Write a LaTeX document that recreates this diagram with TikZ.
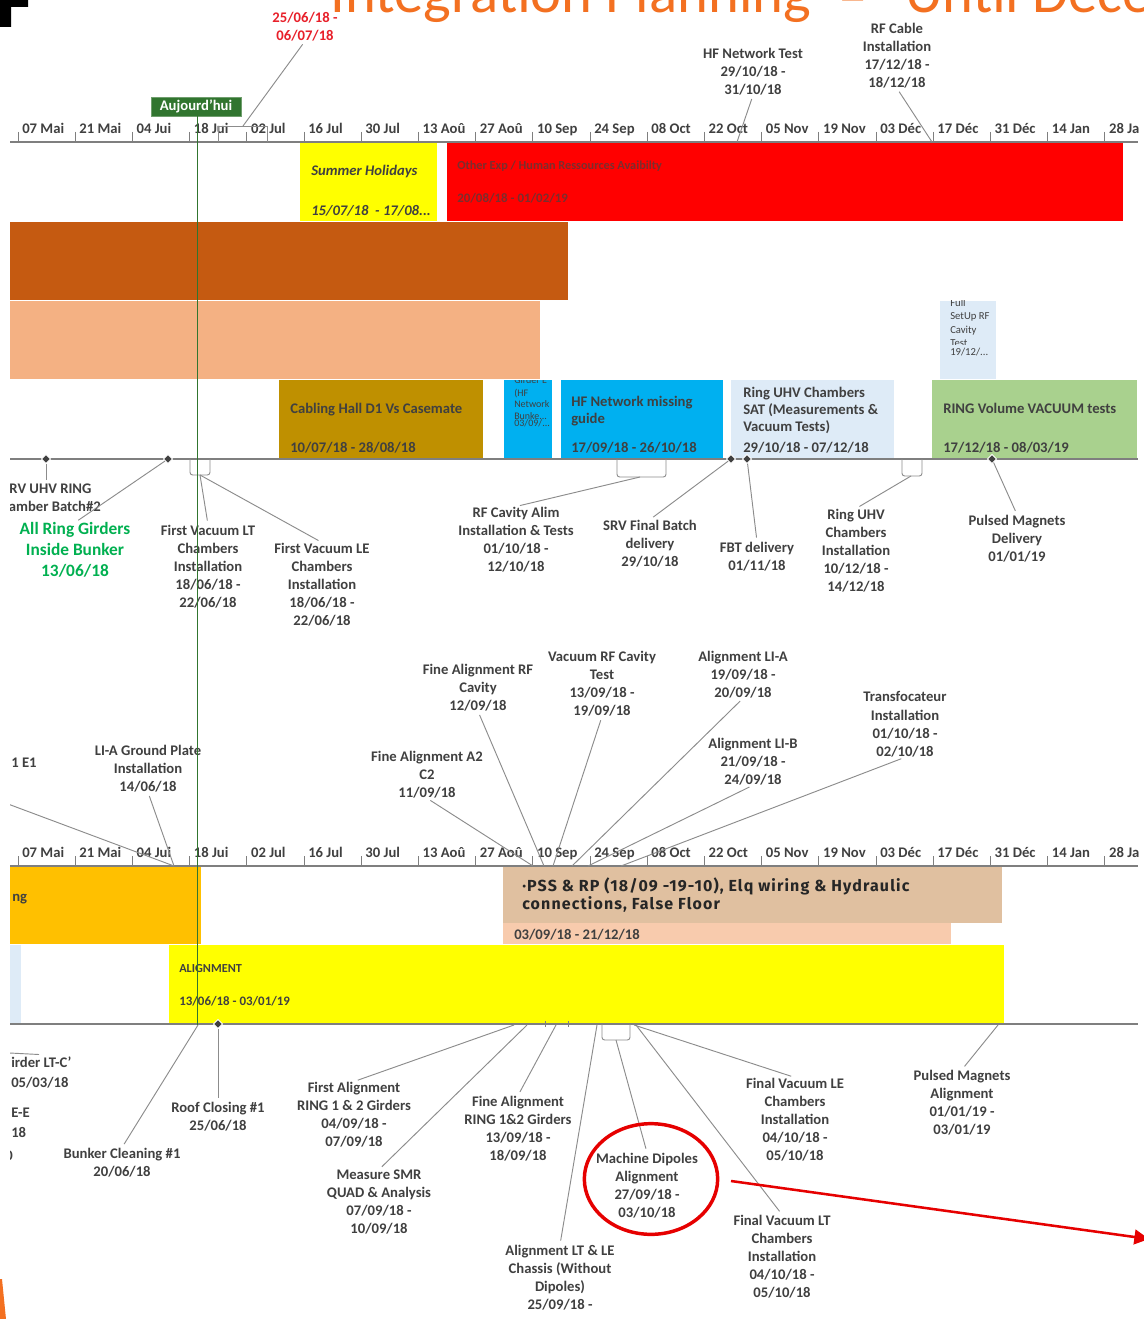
\documentclass[tikz,border=0pt]{standalone}
\usepackage{fontspec}
\setmainfont{Carlito}
\newfontfamily\pssfont{Fira Sans}[LetterSpace=7]
\usetikzlibrary{shapes.geometric,arrows.meta}
\definecolor{tgrey}{HTML}{404040}
\definecolor{lgrey}{HTML}{8C8C8C}
\definecolor{axgrey}{HTML}{7F7F7F}
\definecolor{ttlorange}{HTML}{F37021}
\definecolor{cYellow}{HTML}{FFFF00}
\definecolor{cRed}{HTML}{FF0000}
\definecolor{cRust}{HTML}{C55A11}
\definecolor{cSalmon}{HTML}{F4B183}
\definecolor{cLBlue}{HTML}{DEEBF7}
\definecolor{cGold}{HTML}{BF9000}
\definecolor{cCyan}{HTML}{00B0F0}
\definecolor{cGreen}{HTML}{A9D18E}
\definecolor{cAmber}{HTML}{FFC000}
\definecolor{cTan}{HTML}{E0C0A0}
\definecolor{cPeach}{HTML}{F8CBAD}
\definecolor{cGrnTxt}{HTML}{00B050}
\definecolor{cToday}{HTML}{31752F}
\definecolor{cRedTxt}{HTML}{E8202A}
\definecolor{cAnnot}{HTML}{E60000}
\definecolor{cDimTxt}{HTML}{7A2E2E}
\tikzset{
  lbl/.style={font=\fontsize{11}{13.6}\selectfont\bfseries, text=tgrey, align=center, inner sep=0pt, anchor=north},
  grnlbl/.style={lbl, font=\fontsize{13}{15.5}\selectfont\bfseries, text=cGrnTxt},
  redlbl/.style={lbl, text=cRedTxt},
  btxt/.style={font=\fontsize{11}{13}\selectfont\bfseries, text=tgrey, inner sep=0pt, anchor=base west},
  mbtxt/.style={font=\fontsize{11}{13}\selectfont\bfseries, text=tgrey, inner sep=0pt, anchor=north west, align=left},
  ticklbl/.style={font=\fontsize{11}{13}\selectfont\bfseries, text=tgrey, inner sep=0pt, anchor=base west},
  tinytxt/.style={font=\fontsize{7.5}{8}\selectfont, text=tgrey, inner sep=0pt, anchor=base west},
  smtxt/.style={font=\fontsize{8}{9}\selectfont, text=tgrey, inner sep=0pt, anchor=base west},
  psstxt/.style={font=\pssfont\bfseries\fontsize{12}{13.5}\selectfont, text=black!85, inner sep=0pt, anchor=north west, align=left},
  leader/.style={draw=lgrey, line width=0.7pt},
  toLbl/.style={leader, shorten >=3pt},
  fromLbl/.style={leader, shorten <=3pt},
  axisline/.style={draw=axgrey, line width=1.1pt},
  tickmark/.style={draw=axgrey, line width=0.6pt},
  dia/.style={diamond, fill=tgrey, draw=white, line width=0.7pt, inner sep=0pt, minimum width=7pt, minimum height=7pt},
  brk/.style={draw=lgrey, line width=0.7pt, rounded corners=2pt},
  todaybox/.style={fill=cToday, draw=cToday!70!white, text=white, font=\fontsize{11}{13}\selectfont\bfseries, minimum width=67.5pt, minimum height=14.25pt, inner sep=0pt},
  titletxt/.style={font=\fontsize{44}{50}\selectfont, text=ttlorange, inner sep=0pt, anchor=base west},
  annot/.style={draw=cAnnot, line width=2.6pt},
}
\begin{document}
\begin{tikzpicture}[x=0.75pt,y=-0.75pt]
\useasboundingbox (0,0) rectangle (1144,1319);
\fill[white] (0,0) rectangle (1144,1319);

% title and edge fragments
\node[titletxt] (ttlA) at (330,13) {Integration Planning};
\node[titletxt] (ttlB) at (838,16) {–};
\node[titletxt] (ttlC) at (905,13) {Until Dece};
\fill[black] (0,0) -- (28,0) -- (28,7) -- (11,7) -- (11,27) -- (0,27) -- cycle;
\fill[ttlorange] (0,1279) -- (2,1279) -- (6,1319) -- (0,1319) -- cycle;

\begin{scope}
\clip (10,0) rectangle (1138,1319);

% ---------- section 1 bars
\fill[cYellow] (300,143) rectangle (437,221);
\fill[cRed] (447,143) rectangle (1123,221);
\fill[cRust] (10,222) rectangle (568,300);
\fill[cSalmon] (10,301) rectangle (540,379);
\fill[cLBlue] (940,301) rectangle (996,379);
\fill[cGold] (279,380) rectangle (483,459);
\fill[cCyan] (504,380) rectangle (552,459);
\fill[cCyan] (561,380) rectangle (723,459);
\fill[cLBlue] (731,380) rectangle (894,459);
\fill[cGreen] (932,380) rectangle (1137,459);

\node[btxt, font=\fontsize{11}{13}\selectfont\bfseries\itshape] (sumA) at (311,176) {Summer Holidays};
\node[btxt, font=\fontsize{11}{13}\selectfont\bfseries\itshape] (sumB) at (311,216) {15/07/18\ \ - 17/08...};
\node[btxt, font=\fontsize{9.2}{11}\selectfont\bfseries, text=cDimTxt] (othA) at (457,170) {Other Exp / Human Ressources Avaibilty};
\node[btxt, font=\fontsize{9.7}{11}\selectfont\bfseries, text=cDimTxt] (othB) at (457,203) {20/08/18 - 01/02/19};

\begin{scope}
\clip (940,301) rectangle (996,379);
\node[smtxt] (fuA) at (950,306) {Full};
\node[smtxt] (fuB) at (950,320) {SetUp RF};
\node[smtxt] (fuC) at (950,333) {Cavity};
\node[smtxt] (fuE) at (950,355) {19/12/...};
\end{scope}
\begin{scope}
\clip (940,301) rectangle (996,344);
\node[smtxt] (fuD) at (950,346) {Test};
\end{scope}

\begin{scope}
\clip (504,380) rectangle (552,459);
\node[tinytxt] (gbA) at (514,383) {Girder E};
\node[tinytxt] (gbB) at (514,396) {(HF};
\node[tinytxt] (gbC) at (514,407) {Network};
\node[tinytxt] (gbD) at (514,419) {Bunke...};
\node[tinytxt] (gbE) at (514,426) {03/09/...};
\end{scope}

\node[btxt] (cabA) at (290,413) {Cabling Hall D1 Vs Casemate};
\node[btxt] (cabB) at (290,452) {10/07/18 - 28/08/18};
\node[mbtxt] (hfmA) at (571,395.5) {HF Network missing\\guide};
\node[btxt] (hfmB) at (571,452) {17/09/18 - 26/10/18};
\node[mbtxt] (satA) at (743,386.5) {Ring UHV Chambers\\SAT (Measurements \&\\Vacuum Tests)};
\node[btxt] (satB) at (743,452) {29/10/18 - 07/12/18};
\node[btxt] (volA) at (943,413) {RING Volume VACUUM tests};
\node[btxt] (volB) at (943,452) {17/12/18 - 08/03/19};

% ---------- section 4 bars
\fill[cAmber] (10,867) rectangle (201,944);
\fill[cTan] (503,867) rectangle (1002,923);
\fill[cPeach] (503,923) rectangle (951,944);
\fill[cLBlue] (10,945) rectangle (21,1024);
\fill[cYellow] (169,945) rectangle (1004,1024);
\node[btxt] (amb) at (12,901) {ng};
\node[psstxt] (pss) at (522,877) {·PSS \& RP (18/09 -19-10), Elq wiring \& Hydraulic\\connections, False Floor};
\node[btxt] (pssD) at (514,939) {03/09/18 - 21/12/18};
\node[btxt, font=\fontsize{9.2}{11}\selectfont\bfseries] (alA) at (179,972) {ALIGNMENT};
\node[btxt, font=\fontsize{9.7}{11}\selectfont\bfseries] (alB) at (179,1005) {13/06/18 - 03/01/19};

% ---------- axes
\draw[axisline] (10,142) -- (1138,142);
\draw[axisline] (10,459) -- (1138,459);
\draw[axisline] (10,866) -- (1138,866);
\draw[axisline] (10,1024) -- (1138,1024);
\foreach \lab [count=\i from 0] in {07 Mai,21 Mai,04 Jui,18 Jui,02 Jul,16 Jul,30 Jul,13 Aoû,27 Aoû,10 Sep,24 Sep,08 Oct,22 Oct,05 Nov,19 Nov,03 Déc,17 Déc,31 Déc,14 Jan,28 Jan}{
  \pgfmathsetmacro\tx{18+57.2*\i}
  \draw[tickmark] (\tx,132) -- (\tx,142);
  \node[ticklbl] (tu\i) at (\tx+4,133.5) {\lab};
  \draw[tickmark] (\tx,856) -- (\tx,866);
  \node[ticklbl] (tl\i) at (\tx+4,857.5) {\lab};
}

% ---------- section 1 labels
\node[redlbl] (red25) at (305,11.5) {25/06/18 -\\06/07/18};
\draw[leader] (218,142) -- (218,126) -- (267,126) -- (267,142);
\coordinate (bT) at (243,126);
\draw[fromLbl] (red25.south) -- (bT);
\node[lbl] (hft) at (753,47.5) {HF Network Test\\29/10/18 -\\31/10/18};
\coordinate (hfA) at (737,142);
\draw[fromLbl] (hft.south) -- (hfA);
\node[lbl] (rfc) at (897,22.5) {RF Cable\\Installation\\17/12/18 -\\18/12/18};
\coordinate (rfA) at (932,142);
\draw[fromLbl] (rfc.south) -- (rfA);

% ---------- section 2 milestones
\node[dia] (m1) at (46,459) {};
\node[dia] (m2) at (168,459) {};
\node[dia] (m3) at (731,459) {};
\node[dia] (m4) at (747,459) {};
\node[dia] (m5) at (992,459) {};
\draw[brk] (190,459) -- (190,475) -- (210,475) -- (210,459);
\coordinate (bA) at (200,475);
\draw[brk] (617,459) -- (617,477) -- (666,477) -- (666,459);
\coordinate (bB) at (640,477);
\draw[brk] (902,459) -- (902,476) -- (922,476) -- (922,459);
\coordinate (bC) at (911,476);

\node[lbl] (srv) at (47,483.5) {SRV UHV RING\\Chamber Batch\#2};
\node[grnlbl] (allring) at (75,522.5) {All Ring Girders\\Inside Bunker\\13/06/18};
\node[lbl] (fvlt) at (208,524.5) {First Vacuum LT\\Chambers\\Installation\\18/06/18 -\\22/06/18};
\node[lbl] (fvle) at (322,542.5) {First Vacuum LE\\Chambers\\Installation\\18/06/18 -\\22/06/18};
\node[lbl] (rfalim) at (516,506.5) {RF Cavity Alim\\Installation \& Tests\\01/10/18 -\\12/10/18};
\node[lbl] (srvfin) at (650,519.5) {SRV Final Batch\\delivery\\29/10/18};
\node[lbl] (fbt) at (757,541.5) {FBT delivery\\01/11/18};
\node[lbl] (ringuhv) at (856,508.5) {Ring UHV\\Chambers\\Installation\\10/12/18 -\\14/12/18};
\node[lbl] (pulsdel) at (1017,514.5) {Pulsed Magnets\\Delivery\\01/01/19};

\draw[toLbl] (m1) -- (m1 |- srv.north);
\draw[toLbl] (m2) -- (allring.north);
\draw[toLbl] (bA) -- (fvlt.north);
\draw[toLbl] (bA) -- (fvle.north);
\draw[toLbl] (bB) -- (rfalim.north);
\draw[toLbl] (m3) -- (srvfin.north);
\draw[toLbl] (m4) -- (fbt.north);
\draw[toLbl] (bC) -- (ringuhv.north);
\draw[toLbl] (m5) -- (pulsdel.north);

% ---------- section 3 labels
\node[btxt] (e1) at (11,767) {1 E1};
\coordinate (e1L) at (0,801);
\node[lbl] (lia) at (148,744.5) {LI-A Ground Plate\\Installation\\14/06/18};
\node[lbl] (fa2) at (427,750.5) {Fine Alignment A2\\C2\\11/09/18};
\node[lbl] (farf) at (478,663.5) {Fine Alignment RF\\Cavity\\12/09/18};
\node[lbl] (vrf) at (602,650.5) {Vacuum RF Cavity\\Test\\13/09/18 -\\19/09/18};
\node[lbl] (alia) at (743,650.5) {Alignment LI-A\\19/09/18 -\\20/09/18};
\node[lbl] (alib) at (753,737.5) {Alignment LI-B\\21/09/18 -\\24/09/18};
\node[lbl] (trf) at (905,691.5) {Transfocateur\\Installation\\01/10/18 -\\02/10/18};
\coordinate (q0) at (174,866);
\coordinate (q1) at (533,866);
\coordinate (q2) at (544,866);
\coordinate (q3) at (553,866);
\coordinate (q4) at (572,866);
\coordinate (q5) at (588,866);
\coordinate (q6) at (621,866);
\draw[leader] (e1L) -- (q0);
\draw[fromLbl] (lia.south) -- (q0);
\draw[fromLbl] (fa2.south) -- (q1);
\draw[fromLbl] (farf.south) -- (q2);
\draw[fromLbl] (vrf.south) -- (q3);
\draw[fromLbl] (alia.south) -- (q4);
\draw[fromLbl] (alib.south) -- (q5);
\draw[fromLbl] (trf.south) -- (q6);

% ---------- section 4 milestones
\node[dia] (m6) at (218,1024) {};
\draw[brk] (602,1024) -- (602,1040) -- (630,1040) -- (630,1024);
\coordinate (bD) at (616,1040);
\draw[tickmark] (545,1021) -- (545,1027);
\draw[tickmark] (568,1021) -- (568,1027);
\coordinate (r1) at (198,1025);
\coordinate (r2) at (514,1025);
\coordinate (r3) at (527,1025);
\coordinate (r4) at (556,1025);
\coordinate (r5) at (597,1025);
\coordinate (r6) at (634,1025);
\coordinate (r7) at (636,1025);
\coordinate (r8) at (998,1025);

\node[lbl] (bunk) at (122,1147.5) {Bunker Cleaning \#1\\20/06/18};
\node[lbl] (roof) at (218,1101.5) {Roof Closing \#1\\25/06/18};
\node[lbl] (firstal) at (354,1081.5) {First Alignment\\RING 1 \& 2 Girders\\04/09/18 -\\07/09/18};
\node[lbl] (smr) at (379,1169.5) {Measure SMR\\QUAD \& Analysis\\07/09/18 -\\10/09/18};
\node[lbl] (fineal) at (518,1095.5) {Fine Alignment\\RING 1\&2 Girders\\13/09/18 -\\18/09/18};
\node[lbl] (ltle) at (560,1244.5) {Alignment LT \& LE\\Chassis (Without\\Dipoles)\\25/09/18 -};
\node[lbl] (dip) at (647,1152.5) {Machine Dipoles\\Alignment\\27/09/18 -\\03/10/18};
\node[lbl] (fvle2) at (795,1077.5) {Final Vacuum LE\\Chambers\\Installation\\04/10/18 -\\05/10/18};
\node[lbl] (fvlt2) at (782,1214.5) {Final Vacuum LT\\Chambers\\Installation\\04/10/18 -\\05/10/18};
\node[lbl] (pma) at (962,1069.5) {Pulsed Magnets\\Alignment\\01/01/19 -\\03/01/19};

\draw[toLbl] (r1) -- (bunk.north);
\draw[toLbl] (m6) -- (m6 |- roof.north);
\draw[toLbl] (r2) -- (firstal.north);
\draw[toLbl] (r3) -- (smr.north);
\draw[toLbl] (r4) -- (fineal.north);
\draw[toLbl] (r5) -- (ltle.north);
\draw[toLbl] (bD) -- (dip.north);
\draw[toLbl] (r6) -- (fvle2.north);
\draw[toLbl] (r7) -- (fvlt2.north);
\draw[toLbl] (r8) -- (pma.north);

% left clipped fragments
\coordinate (lcA) at (0,1052.5);
\coordinate (lcB) at (39,1054.5);
\draw[leader] (lcA) -- (lcB);
\node[btxt] (fragA) at (11,1067) {irder LT-C'};
\node[btxt] (fragB) at (11,1087) {05/03/18};
\node[btxt] (fragC) at (11,1117) {E-E};
\node[btxt] (fragD) at (11,1137) {18};
\node[btxt] (fragE) at (5,1160) {0};

% ---------- today marker
\node[todaybox] (today) at (196,106.5) {Aujourd’hui};
\coordinate (todayEnd) at (197,1025);
\draw[cToday, line width=0.7pt] (today.south -| todayEnd) -- (todayEnd);
\end{scope}

% ---------- annotation
\node[ellipse, annot, minimum width=100pt, minimum height=83pt, inner sep=0pt] (circ) at (651,1179) {};
\coordinate (arS) at (731,1181);
\coordinate (arE) at (1149,1239);
\draw[annot, line width=1.9pt, -{Triangle[length=11pt,width=11pt]}] (arS) -- (arE);
\end{tikzpicture}
\end{document}
